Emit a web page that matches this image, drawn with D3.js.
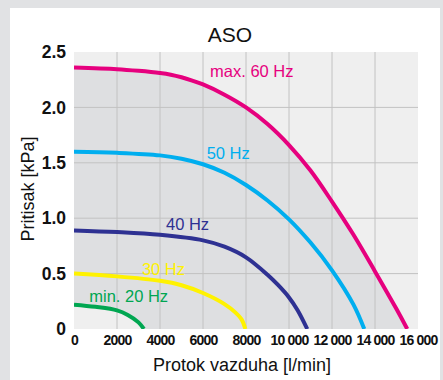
<!DOCTYPE html>
<html><head><meta charset="utf-8">
<script src="https://cdn.jsdelivr.net/npm/d3@7"></script>
<style>
html,body{margin:0;padding:0;background:#e1e2e4;}
svg{display:block;font-family:"Liberation Sans",Arial,Helvetica,sans-serif;}
</style></head>
<body>
<script>
// ---- data ----
const title = "ASO";
const xTitle = "Protok vazduha [l/min]";
const yTitle = "Pritisak [kPa]";
const xTicks = [0, 2000, 4000, 6000, 8000, 10000, 12000, 14000, 16000];
const xTickLabels = ["0", "2000", "4000", "6000", "8000", "10 000", "12 000", "14 000", "16 000"];
const yTicks = [0, 0.5, 1.0, 1.5, 2.0, 2.5];
const yTickLabels = ["0", "0.5", "1.0", "1.5", "2.0", "2.5"];

const seriesNames = ["max. 60 Hz", "50 Hz", "40 Hz", "30 Hz", "min. 20 Hz"];
const seriesColors = ["#e6007e", "#00aeef", "#2e3192", "#fff200", "#00a651"];
const flow60 = [0, 2000, 3000, 4000, 4500, 5000, 5500, 6000, 7000, 8000, 9000, 10000, 11000, 12000, 13000, 14000, 15000, 15500];
const press60 = [2.36, 2.345, 2.33, 2.31, 2.295, 2.272, 2.242, 2.207, 2.115, 2.0, 1.85, 1.66, 1.43, 1.15, 0.85, 0.52, 0.18, 0];
const flow50 = [0, 2000, 4000, 5000, 6000, 7000, 8000, 9000, 10000, 11000, 12000, 13000, 13500];
const press50 = [1.6, 1.59, 1.567, 1.537, 1.487, 1.41, 1.3, 1.16, 0.99, 0.78, 0.53, 0.22, 0];
const flow40 = [0, 2000, 4000, 6000, 7000, 8000, 9000, 9500, 10000, 10400, 10850];
const press40 = [0.89, 0.875, 0.85, 0.8, 0.743, 0.647, 0.49, 0.395, 0.285, 0.17, 0];
const flow30 = [0, 2000, 4000, 5000, 6000, 7000, 7500, 7800, 7970];
const press30 = [0.5, 0.475, 0.435, 0.395, 0.325, 0.225, 0.15, 0.085, 0];
const flow20 = [0, 1000, 2000, 2500, 3000, 3250];
const press20 = [0.22, 0.2, 0.168, 0.127, 0.06, 0];
const labelFlow = [6330, 6170, 4280, 3160, 710];
const labelPress = [2.27, 1.535, 0.893, 0.487, 0.246];

// ---- layout ----
const W = 443, H = 380;
const m = {left: 74, right: 25, top: 52, bottom: 51};
const pw = W - m.left - m.right, ph = H - m.top - m.bottom;

const svg = d3.select("body").append("svg").attr("width", W).attr("height", H);
svg.append("rect").attr("width", W).attr("height", H).attr("fill", "#e1e2e4");
svg.append("rect").attr("x", 10).attr("y", 8).attr("width", 430).attr("height", H - 8).attr("fill", "#ffffff");

const x = d3.scaleLinear().domain([0, 16000]).range([0, pw]);
const y = d3.scaleLinear().domain([0, 2.5]).range([ph, 0]);

const g = svg.append("g").attr("transform", `translate(${m.left},${m.top})`);
g.append("defs").append("clipPath").attr("id", "clip")
  .append("rect").attr("width", pw).attr("height", ph);

g.append("rect").attr("width", pw).attr("height", ph).attr("fill", "#efefef");

const toPts = (fx, py) => fx.map((v, i) => [v, py[i]]);
const series = [toPts(flow60, press60), toPts(flow50, press50), toPts(flow40, press40), toPts(flow30, press30), toPts(flow20, press20)];

const curve = d3.curveCatmullRom.alpha(0.5);
const area = d3.area().x(d => x(d[0])).y0(y(0)).y1(d => y(d[1])).curve(curve);
g.append("path").datum(series[0]).attr("d", area).attr("fill", "#dedfe1");
g.append("path").datum(series[4]).attr("d", area).attr("fill", "#efefef");

// grid
g.append("g").selectAll("line").data(xTicks.filter(v => v > 0 && v < 16000)).join("line")
  .attr("x1", d => x(d)).attr("x2", d => x(d)).attr("y1", 0).attr("y2", ph)
  .attr("stroke", "#c2c2c2").attr("stroke-width", 1);
g.append("g").selectAll("line").data(yTicks.filter(v => v > 0 && v < 2.5)).join("line")
  .attr("x1", 0).attr("x2", pw).attr("y1", d => y(d)).attr("y2", d => y(d))
  .attr("stroke", "#c2c2c2").attr("stroke-width", 1);

// curves
const line = d3.line().x(d => x(d[0])).y(d => y(d[1])).curve(curve);
const cg = g.append("g").attr("clip-path", "url(#clip)");
series.forEach((s, i) => {
  cg.append("path").datum(s).attr("d", line).attr("fill", "none")
    .attr("stroke", seriesColors[i]).attr("stroke-width", 4);
});

// labels
seriesNames.forEach((n, i) => {
  g.append("text").attr("x", x(labelFlow[i])).attr("y", y(labelPress[i]))
    .attr("fill", seriesColors[i]).attr("font-size", 16.5).text(n);
});

// axes
const yAxis = d3.axisLeft(y).tickValues(yTicks).tickFormat((d, i) => yTickLabels[i]).tickSize(0).tickPadding(8);
const ya = g.append("g").call(yAxis);
ya.select(".domain").remove();
ya.selectAll("text").attr("font-size", 17.5).attr("font-weight", "bold").attr("fill", "#111")
  .attr("font-family", "'Liberation Sans',Arial,sans-serif");

const xAxis = d3.axisBottom(x).tickValues(xTicks).tickFormat((d, i) => xTickLabels[i]).tickSize(0).tickPadding(6);
const xa = g.append("g").attr("transform", `translate(0,${ph})`).call(xAxis);
xa.select(".domain").remove();
xa.selectAll("text").attr("font-size", 14).attr("font-weight", "bold").attr("fill", "#111")
  .attr("letter-spacing", "-0.8px").attr("font-family", "'Liberation Sans',Arial,sans-serif");

// titles
svg.append("text").attr("x", 230).attr("y", 42).attr("text-anchor", "middle")
  .attr("font-size", 21).attr("fill", "#111").text(title);
svg.append("text").attr("x", m.left + pw / 2 - 4).attr("y", 371).attr("text-anchor", "middle")
  .attr("font-size", 18).attr("fill", "#111").text(xTitle);
svg.append("text").attr("transform", `translate(34,189) rotate(-90)`).attr("text-anchor", "middle")
  .attr("font-size", 18).attr("fill", "#111").text(yTitle);
</script>
</body></html>
